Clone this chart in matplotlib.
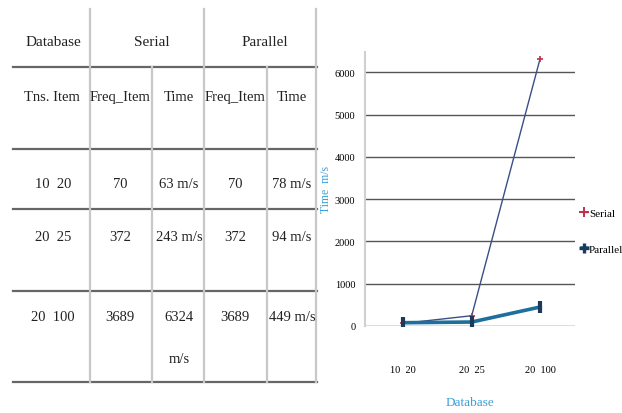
import matplotlib.pyplot as plt
from matplotlib.lines import Line2D

FONT = ['DejaVu Serif Condensed', 'Liberation Serif', 'DejaVu Serif']

# table data
top_headers = ["Database", "Serial", "Parallel"]
sub_headers = ["Tns. Item", "Freq_Item", "Time", "Freq_Item", "Time"]
db_labels = ["10  20", "20  25", "20  100"]
serial_freq = [70, 372, 3689]
serial_time = [63, 243, 6324]
parallel_freq = [70, 372, 3689]
parallel_time = [78, 94, 449]

# chart data
categories = ["10  20", "20  25", "20  100"]
serial = serial_time
parallel = parallel_time

W, H = 622, 414
fig = plt.figure(figsize=(W / 100, H / 100), dpi=100)


def fx(px):
    return px / W


def fy(py):
    return 1 - py / H


def hline(y, x0=13, x1=317, c='#666666', lw=1.6):
    fig.add_artist(Line2D([fx(x0), fx(x1)], [fy(y), fy(y)], color=c, lw=lw))


def vline(x, y0, y1=383, c='#c8c8c8', lw=1.6):
    fig.add_artist(Line2D([fx(x), fx(x)], [fy(y0), fy(y1)], color=c, lw=lw))


def txt(x, y, s, size=10.5):
    fig.text(fx(x), fy(y), s, ha='center', va='center', fontsize=size,
             family=FONT, color='#222222')


# table grid
for y in [68, 150, 210, 292, 383]:
    hline(y)
vline(90, 10)
vline(152, 68)
vline(204, 10)
vline(267, 68)
vline(316, 10)

# header rows
for x, s in zip([53, 152, 265], top_headers):
    txt(x, 42, s, 11)
for x, s in zip([52, 120, 179, 235, 292], sub_headers):
    txt(x, 98, s)

# body rows
row_y = [185, 238, 318]
for i, y in enumerate(row_y):
    txt(53, y, db_labels[i])
    txt(120, y, str(serial_freq[i]))
    if i == 2:
        txt(179, y, str(serial_time[i]))
        txt(179, 360, "m/s")
    else:
        txt(179, y, f"{serial_time[i]} m/s")
    txt(235, y, str(parallel_freq[i]))
    txt(292, y, f"{parallel_time[i]} m/s")

# line chart
ax = fig.add_axes([fx(365), fy(327), fx(575) - fx(365), fy(53) - fy(327)])
xs = range(len(categories))
ax.plot(xs, serial, color='#3b4f86', lw=1.0, marker='+', ms=5,
        mec='#c0304a', mew=1.2, zorder=3)
ax.plot(xs, parallel, color='#1d6f9c', lw=2.6, marker='|', ms=9,
        mec='#1b3a5c', mew=3, zorder=4)

ax.set_xlim(-0.56, 2.51)
ax.set_ylim(0, 6480)
ax.set_yticks(range(0, 7000, 1000))
ax.set_xticks(list(xs))
ax.set_xticklabels(categories, family=FONT, fontsize=7.5)
ax.tick_params(axis='y', labelsize=7.5, length=0, pad=7)
ax.tick_params(axis='x', length=0, pad=28)
for lab in ax.get_yticklabels():
    lab.set_family(FONT)
ax.grid(axis='y', color='#555555', lw=1.0)
ax.set_axisbelow(True)
for side in ['top', 'right', 'bottom']:
    ax.spines[side].set_visible(False)
ax.spines['left'].set_color('#d0d0d0')
ax.spines['left'].set_linewidth(1.5)

ax.set_xlabel("Database", color='#3aa0d8', family=FONT, fontsize=9.5, labelpad=16)
ax.set_ylabel("Time  m/s", color='#3aa0d8', family=FONT, fontsize=8.5, labelpad=2)

handles = [
    Line2D([], [], color='#3b4f86', lw=1.0, marker='+', ms=7, mec='#c0304a', mew=1.4),
    Line2D([], [], color='#1d6f9c', lw=2.6, marker='+', ms=7, mec='#1b3a5c', mew=2.4),
]
leg = ax.legend(handles, ['Serial', 'Parallel'], loc='center left',
                bbox_to_anchor=(1.0, 0.347), frameon=False,
                handlelength=0.5, handletextpad=0.15, labelspacing=2.4,
                prop={'family': FONT, 'size': 8}, borderaxespad=0.2)

fig.savefig("out.png", dpi=100)
